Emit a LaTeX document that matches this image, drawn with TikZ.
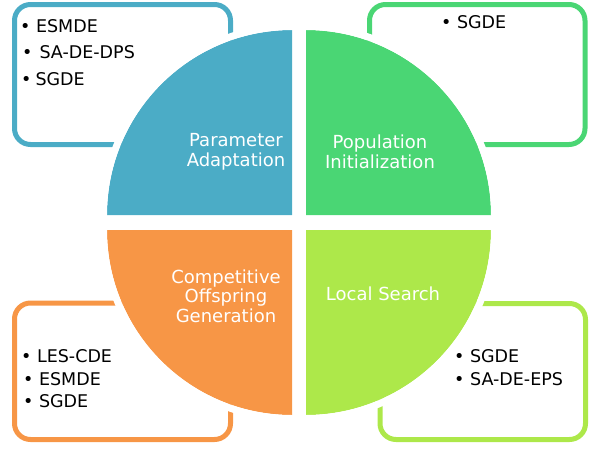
\documentclass[tikz,border=0pt]{standalone}
\usepackage{fontspec}
\setmainfont{DejaVu Sans}
\usepackage{tikz}

\definecolor{paramblue}{RGB}{75,172,198}
\definecolor{initgreen}{RGB}{74,214,116}
\definecolor{searchlime}{RGB}{173,232,74}
\definecolor{offorange}{RGB}{247,150,70}

\tikzset{
	listbox/.style={draw=#1, line width=5pt, rounded corners=16pt},
	gapline/.style={draw=white, line width=7pt},
	itemtext/.style={anchor=base west, inner sep=0pt, font=\fontsize{17.5}{24}\selectfont},
	quadlabel/.style={text=white, inner sep=0pt, align=center, font=\fontsize{18}{19.5}\selectfont},
}

\begin{document}
\begin{tikzpicture}[x=1pt,y=-1pt]
	\useasboundingbox (0,0) rectangle (590,448);
	% boxes behind the quarters
	\draw[listbox=paramblue] (14.5,4.5) rectangle (230.5,144.5);
	\draw[listbox=initgreen] (369.5,4.5) rectangle (585,144.5);
	\draw[listbox=offorange] (14.5,303) rectangle (230.5,439.5);
	\draw[listbox=searchlime] (380,303.5) rectangle (585.5,439.5);
	% the four quarters
	\fill[paramblue] (292,215) -- (107,215) arc[start angle=180, end angle=270, radius=185] -- cycle;
	\fill[initgreen] (306,215) -- (491,215) arc[start angle=0, end angle=-90, radius=185] -- cycle;
	\fill[offorange] (292,230) -- (107,230) arc[start angle=180, end angle=90, radius=185] -- cycle;
	\fill[searchlime] (306,230) -- (491,230) arc[start angle=0, end angle=90, radius=185] -- cycle;
	\draw[gapline] (103.5,215) arc[start angle=180, end angle=270, radius=188.5];
	\draw[gapline] (494.5,215) arc[start angle=0, end angle=-90, radius=188.5];
	\draw[gapline] (103.5,230) arc[start angle=180, end angle=90, radius=188.5];
	\draw[gapline] (494.5,230) arc[start angle=0, end angle=90, radius=188.5];
	% quarter labels
	\node[quadlabel] (param) at (236,152) {Parameter\\Adaptation};
	\node[quadlabel] (init) at (380,152) {Population\\Initialization};
	\node[quadlabel] (offspring) at (226,296) {Competitive\\Offspring\\Generation};
	\node[quadlabel, anchor=base] (search) at (383,300) {Local Search};
	% lists
	\node[itemtext] (pa1) at (20,32) {• ESMDE};
	\node[itemtext] (pa2) at (22,58) {•\kern7pt SA-DE-DPS};
	\node[itemtext] (pa3) at (21,85) {•\kern4pt SGDE};
	\node[itemtext] (pi1) at (441,28) {• SGDE};
	\node[itemtext] (co1) at (21,362) {• LES-CDE};
	\node[itemtext] (co2) at (23,385) {• ESMDE};
	\node[itemtext] (co3) at (23,407) {• SGDE};
	\node[itemtext] (ls1) at (454,362) {• SGDE};
	\node[itemtext] (ls2) at (454,385) {• SA-DE-EPS};
\end{tikzpicture}
\end{document}
